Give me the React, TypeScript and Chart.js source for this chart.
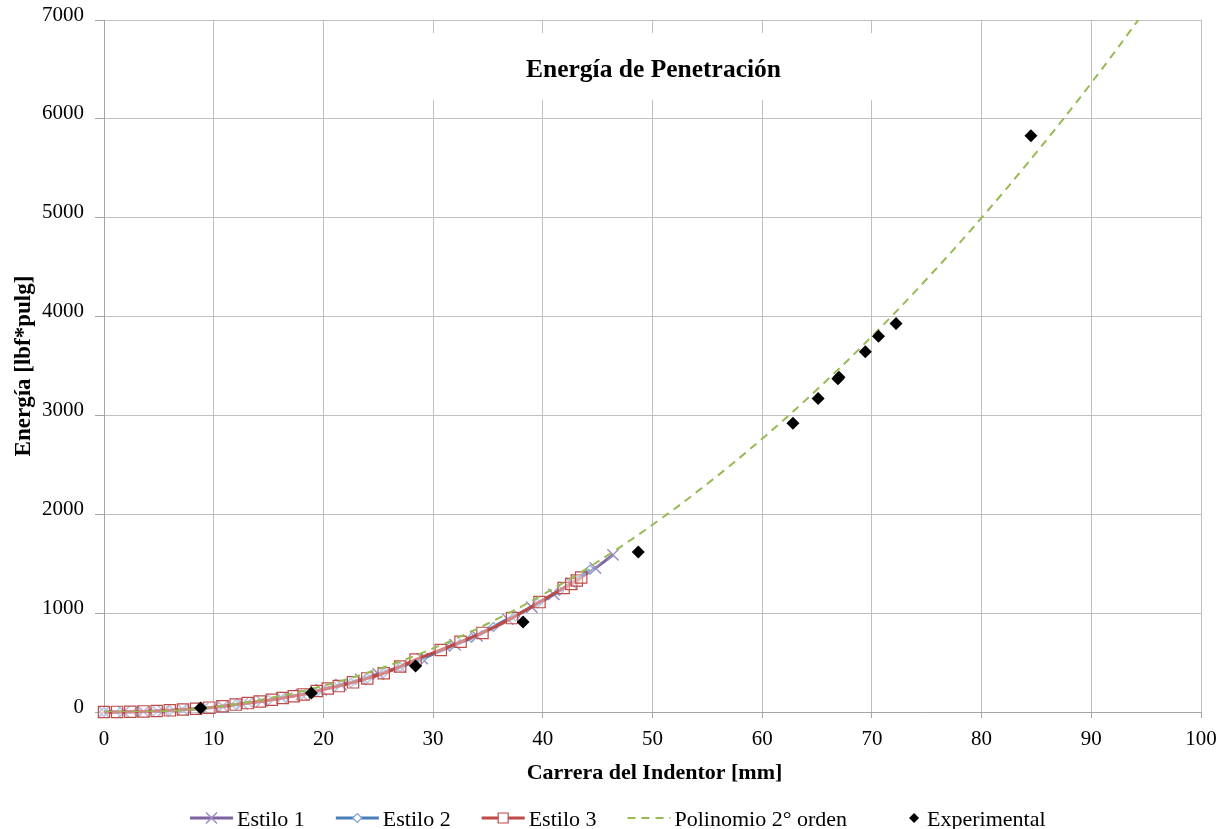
import React, { useEffect, useRef } from 'react';
import { Chart, registerables } from 'chart.js';

Chart.register(...registerables);

// ---------- data ----------
const estilo1X = [0, 1.8, 3.6, 5.4, 7.2, 9, 10.8, 12.6, 14.4, 16.2, 18, 19.8, 21.6, 23.4, 25, 27, 29, 32, 34, 36.8, 39, 41, 42.6, 44.8, 46.4];
const estilo1Y = [0, 1, 5, 11, 23, 37, 57, 82, 110, 142, 178, 225, 276, 330, 385, 455, 540, 680, 770, 940, 1060, 1190, 1300, 1456, 1590];

const estilo2X = [0, 1.5, 3, 4.5, 6, 7.5, 9, 10.5, 12, 13.5, 15, 16.5, 18, 19.5, 21, 22.5, 24, 25.5, 27, 29, 31.5, 33.5, 35.5, 37.5, 39.5, 41.5, 43, 44.3];
const estilo2Y = [0, 1, 4, 9, 17, 27, 38, 54, 75, 96, 120, 148, 178, 214, 254, 296, 340, 395, 455, 540, 660, 750, 860, 970, 1100, 1225, 1340, 1440];

const estilo3X = [0, 1.2, 2.4, 3.6, 4.8, 6, 7.2, 8.4, 9.6, 10.8, 12, 13.1, 14.2, 15.3, 16.3, 17.3, 18.2, 19.4, 20.4, 21.4, 22.7, 24, 25.5, 27, 28.4, 30.7, 32.5, 34.5, 37.2, 39.7, 41.9, 42.6, 43.1, 43.5];
const estilo3Y = [0, 1, 3, 6, 10, 17, 25, 33, 44, 58, 75, 90, 106, 124, 142, 160, 178, 212, 238, 262, 300, 340, 392, 460, 530, 627, 710, 800, 950, 1112, 1254, 1295, 1330, 1360];

const polyX = [0, 5, 10, 15, 20, 25, 30, 35, 40, 45, 50, 55, 60, 65, 70, 75, 80, 85, 90, 95];
const polyY = [0, 5, 50, 138, 265, 434, 644, 895, 1187, 1520, 1894, 2309, 2765, 3262, 3800, 4380, 5000, 5661, 6363, 7107];

const expX = [8.8, 18.9, 28.4, 38.2, 48.7, 62.8, 65.1, 66.9, 67.0, 69.4, 70.6, 72.2, 84.5];
const expY = [40, 192, 465, 910, 1618, 2920, 3170, 3370, 3385, 3645, 3800, 3930, 5830];

const seriesNames = ['Estilo 1', 'Estilo 2', 'Estilo 3', 'Polinomio 2° orden', 'Experimental'];
const chartTitle = 'Energía de Penetración';
const xAxisTitle = 'Carrera del Indentor [mm]';
const yAxisTitle = 'Energía [lbf*pulg]';
const xMin = 0, xMax = 100, xStep = 10;
const yMin = 0, yMax = 7000, yStep = 1000;

// ---------- styles ----------
const FONT = '"Liberation Serif", "Times New Roman", serif';
const C1 = '#7F63A1';
const C2 = '#4A7EBB';
const C3 = '#BE4B48';
const CP = '#98B954';

const toPts = (xs: number[], ys: number[]) => xs.map((x, i) => ({ x, y: ys[i] }));

function drawMarker(ctx: CanvasRenderingContext2D, kind: string, x: number, y: number) {
  ctx.save();
  ctx.setLineDash([]);
  if (kind === 'cross') {
    ctx.strokeStyle = '#9C8CC0';
    ctx.lineWidth = 1.5;
    const r = 5.5;
    ctx.beginPath();
    ctx.moveTo(x - r, y - r); ctx.lineTo(x + r, y + r);
    ctx.moveTo(x - r, y + r); ctx.lineTo(x + r, y - r);
    ctx.stroke();
  } else if (kind === 'diamondHollow') {
    ctx.strokeStyle = '#7FA1CF';
    ctx.fillStyle = '#ffffff';
    ctx.lineWidth = 1.2;
    const r = 4.5;
    ctx.beginPath();
    ctx.moveTo(x - r, y); ctx.lineTo(x, y - r); ctx.lineTo(x + r, y); ctx.lineTo(x, y + r); ctx.closePath();
    ctx.fill(); ctx.stroke();
  } else if (kind === 'square') {
    ctx.strokeStyle = C3;
    ctx.fillStyle = '#ffffff';
    ctx.lineWidth = 1.2;
    ctx.beginPath();
    ctx.rect(x - 5, y - 5, 10, 10);
    ctx.fill(); ctx.stroke();
  } else if (kind === 'diamond') {
    ctx.fillStyle = '#000000';
    const r = 5;
    ctx.beginPath();
    ctx.moveTo(x - r, y); ctx.lineTo(x, y - r); ctx.lineTo(x + r, y); ctx.lineTo(x, y + r); ctx.closePath();
    ctx.fill();
  }
  ctx.restore();
}

const legendItems = [
  { color: C1, marker: 'cross', dash: false, line: true },
  { color: C2, marker: 'diamondHollow', dash: false, line: true },
  { color: C3, marker: 'square', dash: false, line: true },
  { color: CP, marker: '', dash: true, line: true },
  { color: '#000', marker: 'diamond', dash: false, line: false },
];

const decorPlugin = {
  id: 'decor',
  beforeDatasetsDraw(chart: any) {
    const ctx: CanvasRenderingContext2D = chart.ctx;
    const ca = chart.chartArea;
    const cx = (ca.left + ca.right) / 2;
    ctx.save();
    ctx.fillStyle = '#ffffff';
    ctx.fillRect(380, 33, 545, 67);
    ctx.fillStyle = '#000000';
    ctx.font = `bold 25.5px ${FONT}`;
    ctx.textAlign = 'center';
    ctx.textBaseline = 'alphabetic';
    ctx.fillText(chartTitle, cx + 1, 77);
    ctx.restore();
  },
  afterDraw(chart: any) {
    const ctx: CanvasRenderingContext2D = chart.ctx;
    const ca = chart.chartArea;
    const cx = (ca.left + ca.right) / 2;
    const cy = (ca.top + ca.bottom) / 2;
    ctx.save();
    ctx.fillStyle = '#000000';
    ctx.font = `bold 22px ${FONT}`;
    ctx.textAlign = 'center';
    ctx.textBaseline = 'alphabetic';
    ctx.fillText(xAxisTitle, cx + 2, 779);
    ctx.save();
    ctx.font = `bold 23px ${FONT}`;
    ctx.translate(30, cy);
    ctx.rotate(-Math.PI / 2);
    ctx.fillText(yAxisTitle, 0, 0);
    ctx.restore();

    // legend
    ctx.font = `22px ${FONT}`;
    ctx.textAlign = 'left';
    const ly = 818;
    let x = 190;
    legendItems.forEach((it, i) => {
      const label = seriesNames[i];
      const w = ctx.measureText(label).width;
      if (it.line) {
        ctx.save();
        ctx.strokeStyle = it.color;
        if (it.dash) {
          ctx.lineWidth = 2;
          ctx.setLineDash([8, 6]);
          ctx.beginPath();
          ctx.moveTo(x, ly); ctx.lineTo(x + 43, ly);
          ctx.stroke();
        } else {
          ctx.lineWidth = 3;
          ctx.beginPath();
          ctx.moveTo(x, ly); ctx.lineTo(x + 43, ly);
          ctx.stroke();
        }
        ctx.restore();
        if (it.marker) drawMarker(ctx, it.marker, x + 21.5, ly);
        ctx.fillStyle = '#000';
        ctx.fillText(label, x + 47, 826);
        x += 47 + w + 31;
      } else {
        drawMarker(ctx, it.marker, x + 36, ly);
        ctx.fillStyle = '#000';
        ctx.fillText(label, x + 49, 826);
      }
    });
    ctx.restore();
  },
};

export default function App() {
  const ref = useRef<HTMLCanvasElement | null>(null);

  useEffect(() => {
    if (!ref.current) return;
    const chart = new Chart(ref.current, {
      type: 'line',
      data: {
        datasets: [
          {
            label: seriesNames[4],
            data: toPts(expX, expY),
            showLine: false,
            pointStyle: 'rectRot',
            pointRadius: 6.5,
            pointBackgroundColor: '#000000',
            pointBorderColor: '#000000',
            pointBorderWidth: 0,
            order: 0,
            clip: false,
          } as any,
          {
            label: seriesNames[3],
            data: toPts(polyX, polyY),
            borderColor: CP,
            borderWidth: 2,
            borderDash: [8, 6],
            pointRadius: 0,
            tension: 0.4,
            fill: false,
            order: 1,
          },
          {
            label: seriesNames[2],
            data: toPts(estilo3X, estilo3Y),
            borderColor: C3,
            borderWidth: 3,
            pointStyle: 'rect',
            pointRadius: 8,
            pointBorderColor: C3,
            pointBackgroundColor: 'rgba(255,255,255,0.35)',
            pointBorderWidth: 1.2,
            tension: 0.2,
            order: 2,
            clip: false,
          } as any,
          {
            label: seriesNames[1],
            data: toPts(estilo2X, estilo2Y),
            borderColor: C2,
            borderWidth: 3,
            pointStyle: 'rectRot',
            pointRadius: 4.5,
            pointBorderColor: '#7FA1CF',
            pointBackgroundColor: 'rgba(255,255,255,0.4)',
            pointBorderWidth: 1.2,
            tension: 0.2,
            order: 3,
            clip: false,
          } as any,
          {
            label: seriesNames[0],
            data: toPts(estilo1X, estilo1Y),
            borderColor: C1,
            borderWidth: 3,
            pointStyle: 'crossRot',
            pointRadius: 8,
            pointBorderColor: '#9C8CC0',
            pointBorderWidth: 1.5,
            tension: 0.2,
            order: 4,
            clip: false,
          } as any,
        ],
      },
      options: {
        responsive: false,
        animation: false,
        layout: { padding: { left: 0, top: 20, right: 28, bottom: 0 } },
        plugins: {
          legend: { display: false },
          title: { display: false },
          tooltip: { enabled: false },
        },
        scales: {
          x: {
            type: 'linear',
            min: xMin,
            max: xMax,
            ticks: {
              stepSize: xStep,
              maxRotation: 0,
              autoSkip: false,
              color: '#000',
              padding: 9,
              font: { family: FONT, size: 21 },
              callback: (v: any) => String(v),
            },
            grid: { color: '#C0C0C0', lineWidth: 1, tickLength: 6, tickColor: '#A6A6A6' },
            border: { color: '#A6A6A6', width: 1 },
            afterFit: (s: any) => { s.height = 117; s.paddingLeft = 0; s.paddingRight = 0; },
          },
          y: {
            type: 'linear',
            min: yMin,
            max: yMax,
            ticks: {
              stepSize: yStep,
              color: '#000',
              padding: 11,
              labelOffset: -5,
              font: { family: FONT, size: 21 },
              callback: (v: any) => String(v),
            },
            grid: { color: '#C0C0C0', lineWidth: 1, tickLength: 9, tickColor: '#A6A6A6' },
            border: { color: '#A6A6A6', width: 1 },
            afterFit: (s: any) => { s.width = 104; s.paddingTop = 0; s.paddingBottom = 0; },
          },
        },
      },
      plugins: [decorPlugin],
    });
    return () => chart.destroy();
  }, []);

  return (
    <div style={{ position: 'absolute', left: 0, top: 0, width: 1229, height: 829, background: '#fff' }}>
      <canvas ref={ref} width={1229} height={829} style={{ display: 'block' }} />
    </div>
  );
}
